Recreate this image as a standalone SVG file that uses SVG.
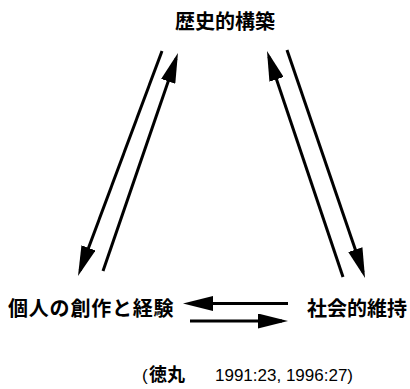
<svg xmlns="http://www.w3.org/2000/svg" width="410" height="389" viewBox="0 0 410 389">
  <defs>
    <style>
      .lbl { font-family: "Noto Sans CJK JP", "Noto Sans CJK SC", sans-serif; font-size: 20px; font-weight: bold; fill: #000; }
      .cite { font-family: "Liberation Sans", "Noto Sans CJK JP", sans-serif; font-size: 17px; fill: #000; }
      .cjk { font-family: "Noto Sans CJK JP", sans-serif; font-size: 18px; font-weight: bold; }
      .conn { stroke: #000; stroke-width: 3; fill: none; marker-end: url(#ah); }
    </style>
    <marker id="ah" markerUnits="userSpaceOnUse" markerWidth="30" markerHeight="15" refX="24" refY="7.5" orient="auto">
      <path d="M0,0 L30,7.5 L0,15 Z" fill="#000"/>
    </marker>
  </defs>
  <rect width="410" height="389" fill="#fff"/>
  <g id="node-history">
    <text class="lbl" x="175" y="29">歴史的構築</text>
  </g>
  <g id="node-individual">
    <text class="lbl" x="8" y="315.5" letter-spacing="0.8">個人の創作と経験</text>
  </g>
  <g id="node-social">
    <text class="lbl" x="307" y="315.5">社会的維持</text>
  </g>
  <g id="connectors">
    <line class="conn" x1="162" y1="51" x2="80.1" y2="270.4"/>
    <line class="conn" x1="103" y1="271" x2="176" y2="58.7"/>
    <line class="conn" x1="343" y1="277" x2="268.9" y2="56.7"/>
    <line class="conn" x1="287" y1="50" x2="363.1" y2="272.3"/>
    <line class="conn" x1="288" y1="303.5" x2="189" y2="303.5"/>
    <line class="conn" x1="190" y1="321" x2="282" y2="321"/>
  </g>
  <g id="citation">
    <text class="cite" x="142" y="381" font-size="18">(<tspan class="cjk" x="149">徳丸</tspan><tspan x="215" font-size="17">1991:23, 1996:27)</tspan></text>
  </g>
</svg>
